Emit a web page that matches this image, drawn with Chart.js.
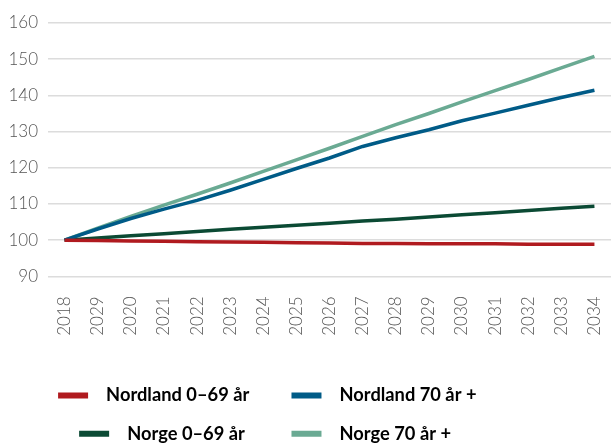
<!DOCTYPE html>
<html>
<head>
<meta charset="utf-8">
<script src="https://cdn.jsdelivr.net/npm/chart.js@4.4.1/dist/chart.umd.min.js"></script>
<style>
html,body{margin:0;padding:0;background:#fff;}
#wrap{width:611px;height:443px;position:relative;}
</style>
</head>
<body>
<div id="wrap"><canvas id="c" width="611" height="443"></canvas></div>
<script>
const years = ['2018','2029','2020','2021','2022','2023','2024','2025','2026','2027','2028','2029','2030','2031','2032','2033','2034'];
const nordland0_69 = [100, 99.9, 99.8, 99.7, 99.6, 99.5, 99.4, 99.3, 99.2, 99.1, 99.1, 99.0, 99.0, 99.0, 98.9, 98.9, 98.9];
const nordland70 = [100, 103.1, 106.0, 108.6, 111.0, 113.8, 116.8, 119.8, 122.7, 125.9, 128.3, 130.5, 133.0, 135.1, 137.3, 139.4, 141.4];
const norge0_69 = [100, 100.6, 101.2, 101.8, 102.4, 103.0, 103.6, 104.1, 104.7, 105.3, 105.8, 106.4, 107.0, 107.6, 108.2, 108.8, 109.4];
const norge70 = [100, 103.3, 106.6, 109.7, 112.7, 115.8, 119.0, 122.2, 125.4, 128.7, 131.9, 135.0, 138.2, 141.3, 144.4, 147.6, 150.8];
const seriesNames = ['Nordland 0\u201369 \u00e5r', 'Nordland 70 \u00e5r +', 'Norge 0\u201369 \u00e5r', 'Norge 70 \u00e5r +'];
const yTicks = [90, 100, 110, 120, 130, 140, 150, 160];

const colors = ['#b01a1f', '#005b87', '#0b4a34', '#6aaa93'];
const seriesData = [nordland0_69, nordland70, norge0_69, norge70];

// spacing inside legend labels to mimic the reference legend layout
const lead = '  ';
const trail = [' '.repeat(5), ' '.repeat(19), ' '.repeat(6), ' '.repeat(20)];

new Chart(document.getElementById('c'), {
  type: 'line',
  data: {
    labels: years,
    datasets: seriesData.map((d, i) => ({
      label: seriesNames[i],
      data: d,
      borderColor: colors[i],
      backgroundColor: colors[i],
      borderWidth: 3.5,
      pointRadius: 0,
      tension: 0,
      fill: false
    }))
  },
  options: {
    responsive: false,
    animation: false,
    layout: { padding: { top: 23, left: 8, right: 0, bottom: -10 } },
    scales: {
      x: {
        offset: true,
        grid: { display: false },
        border: { display: false },
        ticks: {
          maxRotation: 90, minRotation: 90, autoSkip: false, padding: 12,
          color: '#555', font: { family: 'Lato', size: 17, weight: 300 }
        },
        afterFit: s => { s.height = 90; s.paddingRight = 0; s.paddingLeft = 0; }
      },
      y: {
        min: 90, max: 160,
        afterBuildTicks: s => { s.ticks = yTicks.map(v => ({ value: v })); },
        grid: { color: '#dcdcdc', lineWidth: 1.5, drawTicks: false },
        border: { display: false },
        ticks: {
          padding: 10,
          color: '#555', font: { family: 'Lato', size: 17, weight: 300 }
        },
        afterFit: s => { s.width = 40; }
      }
    },
    plugins: {
      tooltip: { enabled: false },
      legend: {
        position: 'bottom',
        labels: {
          boxWidth: 30, boxHeight: 6, padding: 20,
          color: '#111',
          font: { family: 'Lato', size: 18.3, weight: 'bold' },
          generateLabels: chart => chart.data.datasets.map((ds, i) => ({
            text: lead + ds.label + trail[i],
            fillStyle: ds.borderColor,
            strokeStyle: ds.borderColor,
            lineWidth: 0,
            datasetIndex: i,
            hidden: false
          }))
        }
      }
    }
  }
});
</script>
</body>
</html>
